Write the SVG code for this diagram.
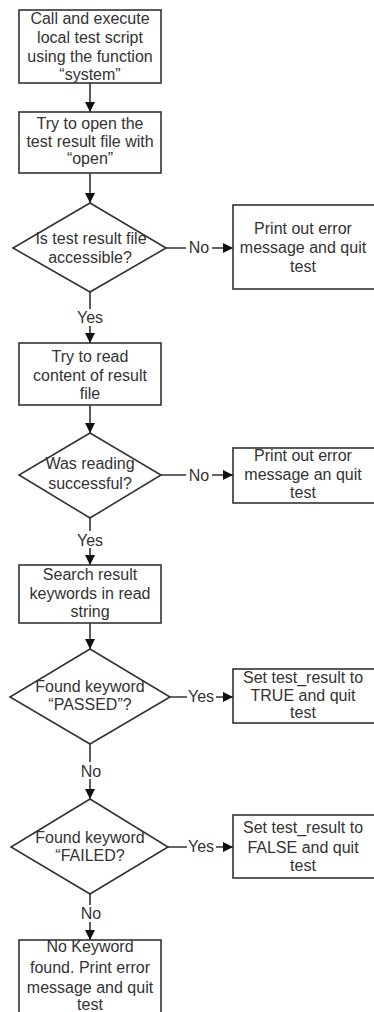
<svg xmlns="http://www.w3.org/2000/svg" width="374" height="1012" viewBox="0 0 374 1012">
<style>
  .n rect, .n polygon { fill: #fff; stroke: #333; stroke-width: 1.6; }
  .t { font-family: "Liberation Sans", Arial, sans-serif; font-size: 16px; fill: #333; text-anchor: middle; }
  .c { fill: none; stroke: #333; stroke-width: 1.6; }
  .lb { fill: #fff; }
</style>
<defs>
  <marker id="ah" markerUnits="userSpaceOnUse" markerWidth="10" markerHeight="10" refX="10" refY="5" orient="auto">
    <path d="M0,0 L10,5 L0,10 z" fill="#111"/>
  </marker>
</defs>
<rect width="374" height="1012" fill="#fff"/>
<g id="connectors">
  <path class="c" d="M90,83 V112" marker-end="url(#ah)"/>
  <path class="c" d="M90,173 V203" marker-end="url(#ah)"/>
  <path class="c" d="M90,292 V343" marker-end="url(#ah)"/>
  <path class="c" d="M166,248 H233" marker-end="url(#ah)"/>
  <path class="c" d="M90,405 V433" marker-end="url(#ah)"/>
  <path class="c" d="M90,518 V565" marker-end="url(#ah)"/>
  <path class="c" d="M161,475 H233" marker-end="url(#ah)"/>
  <path class="c" d="M90,623 V649" marker-end="url(#ah)"/>
  <path class="c" d="M90,744 V799" marker-end="url(#ah)"/>
  <path class="c" d="M170,697 H233" marker-end="url(#ah)"/>
  <path class="c" d="M90,894 V940" marker-end="url(#ah)"/>
  <path class="c" d="M168,847 H233" marker-end="url(#ah)"/>
  <rect class="lb" x="186" y="240" width="26" height="16"/>
  <text class="t" x="199" y="253">No</text>
  <rect class="lb" x="76" y="309" width="28" height="17"/>
  <text class="t" x="90" y="323">Yes</text>
  <rect class="lb" x="186" y="467" width="26" height="16"/>
  <text class="t" x="199" y="481">No</text>
  <rect class="lb" x="76" y="531" width="28" height="17"/>
  <text class="t" x="90" y="546">Yes</text>
  <rect class="lb" x="187" y="689" width="29" height="16"/>
  <text class="t" x="201" y="702">Yes</text>
  <rect class="lb" x="78" y="762" width="26" height="17"/>
  <text class="t" x="91" y="777">No</text>
  <rect class="lb" x="187" y="839" width="29" height="16"/>
  <text class="t" x="201" y="852">Yes</text>
  <rect class="lb" x="78" y="905" width="26" height="17"/>
  <text class="t" x="91" y="919">No</text>
</g>
<g id="n1" class="n">
  <rect x="19" y="10" width="142" height="73"/>
  <text class="t" x="90" y="24">Call and execute</text>
  <text class="t" x="90" y="43">local test script</text>
  <text class="t" x="90" y="62">using the function</text>
  <text class="t" x="90" y="80">“system”</text>
</g>
<g id="n2" class="n">
  <rect x="19" y="112" width="142" height="61"/>
  <text class="t" x="90" y="129">Try to open the</text>
  <text class="t" x="90" y="147">test result file with</text>
  <text class="t" x="90" y="164">“open”</text>
</g>
<g id="d1" class="n">
  <polygon points="90,203 166,248 90,292 13,248"/>
  <text class="t" x="91" y="244">Is test result file</text>
  <text class="t" x="90" y="263">accessible?</text>
</g>
<g id="e1" class="n">
  <rect x="233" y="205" width="145" height="84"/>
  <text class="t" x="303" y="234">Print out error</text>
  <text class="t" x="303" y="253">message and quit</text>
  <text class="t" x="303" y="272">test</text>
</g>
<g id="n3" class="n">
  <rect x="19" y="343" width="142" height="62"/>
  <text class="t" x="90" y="362">Try to read</text>
  <text class="t" x="90" y="381">content of result</text>
  <text class="t" x="90" y="399">file</text>
</g>
<g id="d2" class="n">
  <polygon points="90,433 161,475 90,518 19,475"/>
  <text class="t" x="90" y="469">Was reading</text>
  <text class="t" x="90" y="489">successful?</text>
</g>
<g id="e2" class="n">
  <rect x="233" y="448" width="145" height="55"/>
  <text class="t" x="303" y="461">Print out error</text>
  <text class="t" x="303" y="480">message an quit</text>
  <text class="t" x="303" y="498">test</text>
</g>
<g id="n4" class="n">
  <rect x="19" y="565" width="142" height="58"/>
  <text class="t" x="90" y="580">Search result</text>
  <text class="t" x="90" y="599">keywords in read</text>
  <text class="t" x="90" y="617">string</text>
</g>
<g id="d3" class="n">
  <polygon points="90,649 170,697 90,744 10,697"/>
  <text class="t" x="90" y="692">Found keyword</text>
  <text class="t" x="90" y="710">“PASSED”?</text>
</g>
<g id="e3" class="n">
  <rect x="233" y="669" width="145" height="54"/>
  <text class="t" x="303" y="683">Set test_result to</text>
  <text class="t" x="303" y="701">TRUE and quit</text>
  <text class="t" x="303" y="718">test</text>
</g>
<g id="d4" class="n">
  <polygon points="90,799 168,847 90,894 11,847"/>
  <text class="t" x="90" y="843">Found keyword</text>
  <text class="t" x="90" y="861">“FAILED?</text>
</g>
<g id="e4" class="n">
  <rect x="233" y="815" width="145" height="63"/>
  <text class="t" x="303" y="833">Set test_result to</text>
  <text class="t" x="303" y="853">FALSE and quit</text>
  <text class="t" x="303" y="871">test</text>
</g>
<g id="n5" class="n">
  <rect x="19" y="940" width="142" height="80"/>
  <text class="t" x="90" y="952">No Keyword</text>
  <text class="t" x="90" y="973">found. Print error</text>
  <text class="t" x="90" y="993">message and quit</text>
  <text class="t" x="90" y="1010">test</text>
</g>
</svg>
